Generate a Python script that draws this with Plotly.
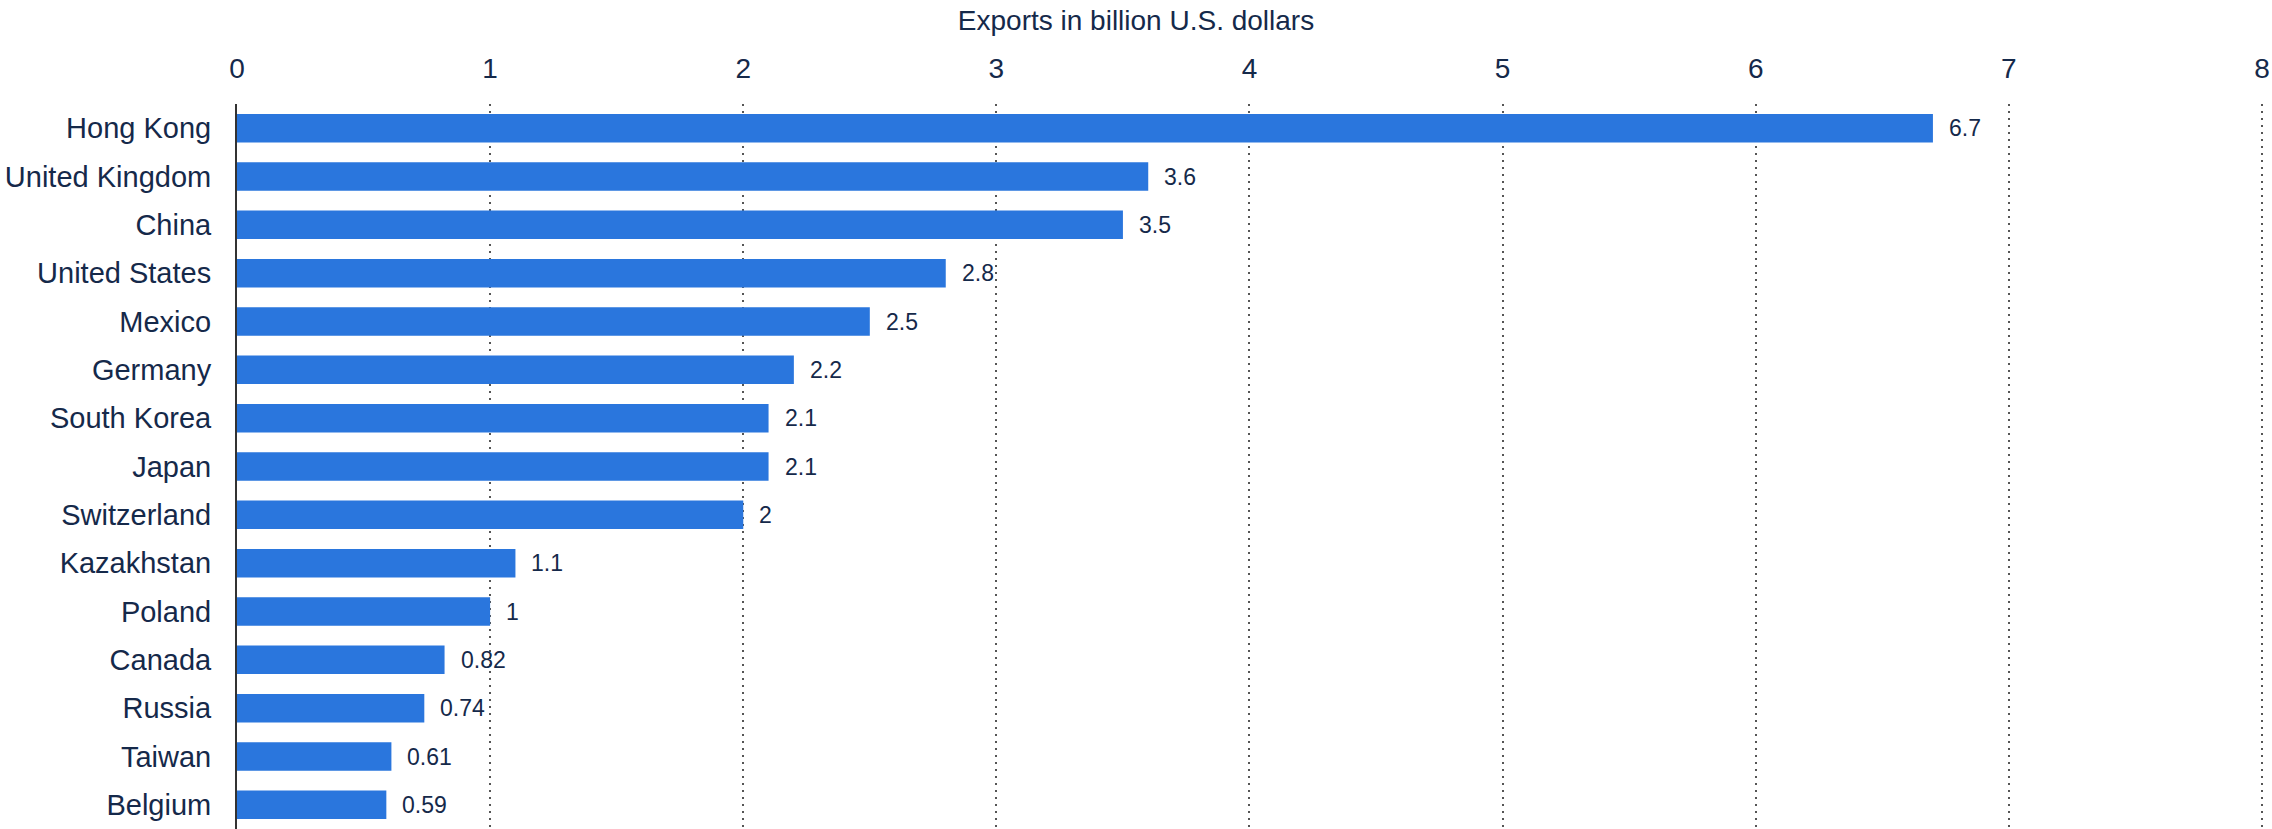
import plotly.graph_objects as go

countries = ["Hong Kong", "United Kingdom", "China", "United States", "Mexico",
             "Germany", "South Korea", "Japan", "Switzerland", "Kazakhstan",
             "Poland", "Canada", "Russia", "Taiwan", "Belgium"]
exports = [6.7, 3.6, 3.5, 2.8, 2.5, 2.2, 2.1, 2.1, 2.0, 1.1, 1.0, 0.82, 0.74, 0.61, 0.59]
value_labels = ["6.7", "3.6", "3.5", "2.8", "2.5", "2.2", "2.1", "2.1", "2", "1.1", "1",
                "0.82", "0.74", "0.61", "0.59"]
x_ticks = [0, 1, 2, 3, 4, 5, 6, 7, 8]

TEXT = "#15294a"
FONT = "Liberation Sans, Arial, sans-serif"

fig = go.Figure()
fig.add_trace(go.Bar(
    x=exports, y=countries, orientation="h",
    marker=dict(color="#2a76dd", line=dict(width=0)),
    hoverinfo="skip",
))

for c, v, lab in zip(countries, exports, value_labels):
    fig.add_annotation(x=v, y=c, text=lab, showarrow=False, xanchor="left",
                       xshift=14, font=dict(size=23, color=TEXT, family=FONT))

fig.update_layout(
    width=2272, height=829,
    margin=dict(l=237, r=9, t=104, b=0, pad=0),
    paper_bgcolor="white", plot_bgcolor="white",
    bargap=0.41,
    showlegend=False,
    font=dict(family=FONT, color=TEXT),
    title=dict(text="Exports in billion U.S. dollars", x=0.5, xref="container",
               xanchor="center", y=1 - 20 / 829, yref="container", yanchor="middle",
               font=dict(size=28, color=TEXT, family=FONT)),
    xaxis=dict(
        side="top", range=[0, 8.004], tickvals=x_ticks, ticktext=[str(t) for t in x_ticks],
        showgrid=True, gridcolor="#555555", gridwidth=2, griddash="2px,5px",
        zeroline=False, showline=False, ticks="",
        ticklabelstandoff=19, automargin=False,
        tickfont=dict(size=28, color=TEXT, family=FONT),
        fixedrange=True,
    ),
    yaxis=dict(
        autorange="reversed", showgrid=False, zeroline=False,
        showline=True, linecolor="#333333", linewidth=2,
        ticks="", ticklabelstandoff=18, automargin=False,
        tickfont=dict(size=29, color=TEXT, family=FONT),
        fixedrange=True,
    ),
)

fig.write_html(
    "out.html",
    config={"displayModeBar": False},
    post_script="document.body.style.margin='0';document.body.style.overflow='hidden';",
)
